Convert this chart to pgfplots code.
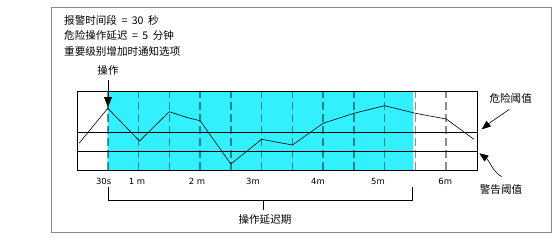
\documentclass[border=0pt]{standalone}
\usepackage{fontspec}
\setmainfont{DejaVu Sans}
\newfontfamily\cjk{Noto Sans CJK SC}
\usepackage{pgfplots}
\pgfplotsset{compat=1.18}
\usetikzlibrary{arrows.meta}
\definecolor{cyanfill}{HTML}{33F0FF}
\definecolor{framegray}{HTML}{8A8A8A}
\newcommand{\cjkfont}{\cjk\fontsize{10.6}{12}\selectfont}
\newcommand{\gapsp}{\hspace{4.5bp}}
\begin{document}
\begin{tikzpicture}[x=1bp,y=1bp]
\useasboundingbox (0,0) rectangle (557,243);
\draw[framegray, line width=1bp] (51,235) -- (51,11) -- (551.7,11) -- (551.7,235) -- cycle;
\begin{axis}[at={(77bp,73bp)}, anchor=south west, scale only axis,
  width=400bp, height=79bp, xmin=0, xmax=390, ymin=0, ymax=79,
  ytick=\empty,
  xtick={26,58.5,117,171.6,235,293.5,359},
  xticklabels={30s,1 m,2 m,3m,4m,5m,6m},
  major tick length=0,
  tick label style={font=\fontsize{8.5}{10}\selectfont, yshift=-4.5bp},
  extra x ticks={30,60,90,120,150,180,210,240,270,300,330,360},
  extra x tick labels={},
  extra x tick style={grid=major, major grid style={black, opacity=0.45, line width=1.5bp, dash pattern=on 8bp off 4bp}},
  axis line style={line width=0.9bp},
  clip=false, axis on top]
\addplot[draw=none, fill=cyanfill] coordinates {(30,0) (30,79) (328,79) (328,0)} \closedcycle;
\addplot[black, line width=0.9bp] coordinates {(0,38) (390,38)};
\addplot[black, line width=0.9bp] coordinates {(0,19) (390,19)};
\addplot[black, line width=0.6bp] coordinates {
(2,26.7) (30,61.7) (61,29) (90,58.3) (108,52.3) (120,49.3) (150,6) (180,30.7)
(210,25) (240,46.7) (270,56.7) (300,64.3) (330,56.7) (360,51) (387,30.7)};
\end{axis}
% top-left text
\node[anchor=west, inner sep=0] at (64,223) {\cjkfont 报警时间段\gapsp{}=\gapsp{}30\gapsp{}秒};
\node[anchor=west, inner sep=0] at (64,208) {\cjkfont 危险操作延迟\gapsp{}=\gapsp{}5\gapsp{}分钟};
\node[anchor=west, inner sep=0] at (64,191.3) {\cjkfont 重要级别增加时通知选项};
% action arrow
\node[inner sep=0] at (108,173) {\cjkfont 操作};
\draw[black, line width=0.8bp, -{Triangle[width=8bp,length=10bp]}] (108,163) -- (108,136);
% delay bracket
\draw[black, line width=0.8bp] (108.5,56) -- (108.5,43) -- (412.5,43) -- (412.5,56);
\draw[black, line width=0.8bp] (263.3,43) -- (263.3,33);
\node[inner sep=0] at (265,23) {\cjkfont 操作延迟期};
% thresholds
\node[inner sep=0] at (510.7,144.7) {\cjkfont 危险阈值};
\draw[black, line width=0.6bp, -{Triangle[width=7bp,length=9bp]}] (509.3,133.7) .. controls (500,127) and (492,122) .. (481.7,113.7);
\node[inner sep=0] at (501,53.7) {\cjkfont 警告阈值};
\draw[black, line width=0.6bp, -{Triangle[width=7bp,length=9bp]}] (501.7,66.3) .. controls (492,72) and (490,82) .. (479.3,89.7);
\end{tikzpicture}
\end{document}
